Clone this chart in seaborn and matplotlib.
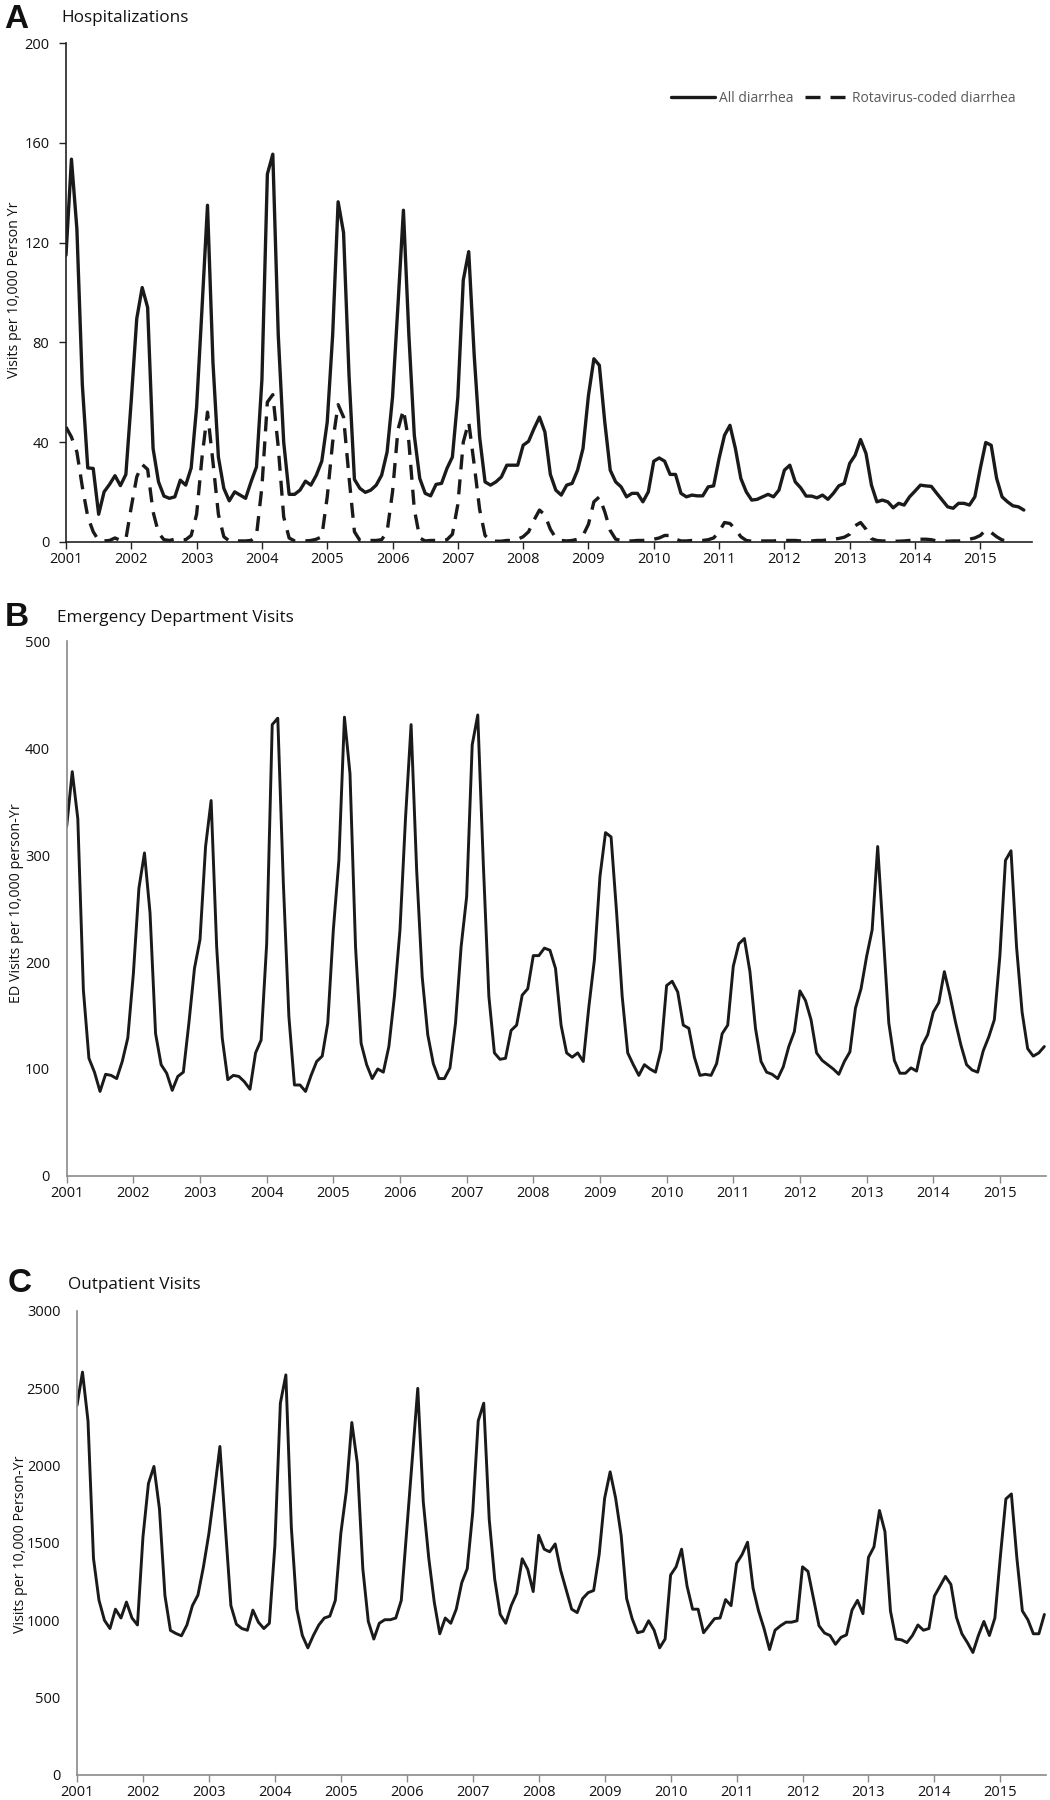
import numpy as np
import pandas as pd
import matplotlib
matplotlib.use("Agg")
import matplotlib.pyplot as plt
import seaborn as sns

# ---------------- data (monthly, Jan 2001 onward) ----------------
years = list(range(2001, 2016))

hosp_all = [
    115, 153.5, 125.5, 63, 29.6, 29.4, 11, 20, 23, 26.5, 22.5, 27,          # 2001
    57, 89.5, 102, 94, 37.4, 24, 18.3, 17.4, 18, 24.7, 22.7, 29.6,          # 2002
    54, 94, 135, 72, 34, 21.4, 16.4, 20, 18.7, 17.4, 24, 30,                # 2003
    65, 147.5, 155.5, 83, 40, 19, 19, 20.7, 24.3, 22.7, 26.7, 32.3,         # 2004
    48, 83, 136.4, 124, 67, 25, 21.4, 19.8, 20.7, 22.7, 26.7, 36,           # 2005
    58, 95, 133, 83, 42.7, 25.4, 19.4, 18.4, 23, 23.4, 29.4, 34,            # 2006
    58, 105, 116.4, 75, 42, 24, 22.7, 24, 26, 30.7, 30.7, 30.7,             # 2007
    38.7, 40.3, 45.4, 50, 44, 27, 20.7, 18.7, 22.7, 23.4, 28.7, 37.4,       # 2008
    58.7, 73.4, 70.8, 48, 28.7, 24, 22, 18, 19.4, 19.4, 16, 20,             # 2009
    32.3, 33.6, 32.3, 27, 27, 19.4, 18, 18.7, 18.4, 18.4, 22, 22.4,         # 2010
    33.4, 42.7, 46.7, 37.4, 25.4, 20, 16.7, 17, 18, 19, 18, 20.7,           # 2011
    28.7, 30.7, 24, 21.6, 18.3, 18.3, 17.6, 18.7, 17, 19.4, 22.4, 23.4,     # 2012
    31.4, 34.7, 41, 35.4, 22.7, 16, 16.7, 16, 13.6, 15.4, 14.7, 18,         # 2013
    20.3, 22.7, 22.4, 22.2, 19.4, 16.7, 14, 13.4, 15.4, 15.4, 14.7, 18,     # 2014
    29.4, 39.8, 38.7, 25.4, 18, 16, 14.4, 14, 12.7,                         # 2015
]

hosp_rota = [
    46, 42, 36, 22, 10, 4, 0.5, 0.3, 0.5, 1.5, 0.5, 1.0,
    14, 26, 31, 29, 12, 3.5, 0.8, 0.5, 1.0, 0.8, 0.8, 2.5,
    11, 34, 52, 32, 11, 2, 0.3, 0.3, 0.3, 0.3, 0.5, 2.5,
    22, 56, 59, 38, 10, 1.5, 0.3, 0.2, 0.3, 0.5, 1.0, 2.0,
    18, 40, 55, 50, 26, 4, 0.5, 0.3, 0.5, 0.5, 0.8, 4,
    20, 45, 53, 40, 13, 1.5, 0.3, 0.5, 0.5, 0.5, 0.8, 3,
    15, 40, 48, 31, 13, 2.5, 0.3, 0.2, 0.2, 0.5, 0.5, 1.0,
    2, 4, 8.7, 12.7, 10.7, 5, 1.5, 0.5, 0.3, 0.5, 1.0, 2.5,
    7, 16, 18, 12, 4.5, 1.0, 0.5, 0.3, 0.3, 0.5, 0.5, 0.8,
    1.0, 1.5, 2.5, 2.5, 1.0, 0.3, 0.3, 0.5, 0.5, 0.5, 0.8, 1.5,
    4, 7.7, 7.3, 5, 2, 0.5, 0.2, 0.2, 0.3, 0.3, 0.3, 0.5,
    0.5, 0.5, 0.5, 0.3, 0.3, 0.3, 0.5, 0.5, 0.8, 1.0, 1.3, 1.8,
    3, 6.4, 7.7, 5, 1.2, 0.5, 0.3, 0.3, 0.2, 0.2, 0.3, 0.5,
    0.8, 1.0, 1.0, 0.8, 0.3, 0.2, 0.2, 0.3, 0.3, 0.5, 1.0, 1.5,
    2.5, 4.7, 3.7, 2.0, 0.7, 0.3,
]

ed_visits = [
    327, 378, 334, 174, 110, 97, 79, 95, 94, 91, 107, 129,
    189, 269, 302, 246, 133, 104, 96, 80, 93, 97, 143, 194,
    221, 308, 351, 214, 129, 90, 94, 93, 88, 81, 115, 127,
    217, 422, 428, 274, 149, 85, 85, 79, 94, 107, 112, 143,
    230, 295, 429, 376, 214, 124, 104, 91, 100, 97, 121, 168,
    230, 335, 422, 286, 186, 132, 105, 91, 91, 101, 143, 214,
    261, 403, 431, 292, 168, 115, 109, 110, 136, 141, 169, 175,
    206, 206, 213, 211, 194, 141, 115, 111, 115, 107, 158, 202,
    280, 321, 317, 246, 168, 115, 104, 94, 104, 100, 97, 118,
    178, 182, 172, 141, 138, 111, 94, 95, 94, 105, 133, 141,
    196, 217, 222, 191, 138, 107, 97, 95, 91, 102, 121, 135,
    173, 164, 146, 115, 108, 104, 100, 95, 107, 116, 157, 175,
    205, 230, 308, 225, 143, 108, 96, 96, 101, 98, 122, 132,
    153, 162, 191, 169, 144, 122, 104, 99, 97, 117, 130, 146,
    206, 295, 304, 214, 153, 119, 112, 115, 121,
]

outpatient = [
    2390, 2605, 2290, 1400, 1130, 1000, 947, 1072, 1015, 1118, 1015, 970,
    1539, 1885, 1995, 1721, 1160, 935, 915, 900, 970, 1095, 1163, 1345,
    1562, 1835, 2124, 1600, 1095, 975, 947, 936, 1066, 988, 947, 981,
    1482, 2404, 2587, 1600, 1072, 902, 822, 902, 970, 1015, 1027, 1129,
    1562, 1835, 2279, 2017, 1334, 993, 879, 981, 1004, 1004, 1015, 1129,
    1585, 2040, 2500, 1767, 1402, 1118, 913, 1015, 981, 1072, 1243, 1334,
    1699, 2290, 2404, 1653, 1266, 1038, 981, 1095, 1175, 1398, 1330, 1186,
    1550, 1460, 1443, 1494, 1323, 1198, 1072, 1050, 1141, 1179, 1193, 1425,
    1790, 1960, 1790, 1550, 1141, 1011, 920, 929, 997, 936, 822, 879,
    1293, 1346, 1460, 1220, 1072, 1072, 920, 965, 1011, 1015, 1134, 1095,
    1368, 1425, 1505, 1209, 1061, 947, 811, 936, 965, 988, 988, 997,
    1346, 1316, 1141, 965, 918, 902, 845, 890, 906, 1066, 1129, 1043,
    1407, 1475, 1710, 1573, 1061, 879, 874, 856, 902, 970, 936, 947,
    1157, 1220, 1284, 1232, 1020, 913, 856, 792, 902, 993, 902, 1015,
    1414, 1785, 1817, 1403, 1061, 1004, 913, 913, 1038,
]

series_labels = ["All diarrhea", "Rotavirus-coded diarrhea"]

# ---------------- style ----------------
sns.set_style("ticks")
plt.rcParams['font.family'] = ['Open Sans', 'DejaVu Sans']
plt.rcParams['axes.linewidth'] = 1.0

W, H = 1050, 1800
fig = plt.figure(figsize=(W / 100, H / 100), dpi=100)

def add_ax(x0, x1, ytop, ybot):
    return fig.add_axes([x0 / W, 1 - ybot / H, (x1 - x0) / W, (ybot - ytop) / H])

LINE = "#1a1a1a"
TICK_FS = 10.5
year_ticks = [12 * k for k in range(len(years))]

def frame(ax, spine_color, ytick_len):
    sns.despine(ax=ax)
    for s in ("left", "bottom"):
        ax.spines[s].set_color(spine_color)
        ax.spines[s].set_linewidth(1.2)
    ax.set_xticks(year_ticks)
    ax.set_xticklabels([str(y) for y in years])
    ax.tick_params(axis="x", length=5, width=1.0, color=spine_color, direction="out",
                   labelsize=TICK_FS, pad=2.5, labelcolor="#111111")
    ax.tick_params(axis="y", length=ytick_len, width=1.0, color=spine_color, direction="out",
                   labelsize=TICK_FS, pad=12 - ytick_len, labelcolor="#111111")
    ax.set_xlabel("")
    ax.set_ylabel("")
    ax.grid(False)

# ---------------- Panel A ----------------
axA = add_ax(66, 1032, 43.3, 541.7)
dfA1 = pd.DataFrame({"month": np.arange(len(hosp_all)), "rate": hosp_all})
dfA2 = pd.DataFrame({"month": np.arange(len(hosp_rota)), "rate": hosp_rota})
sns.lineplot(data=dfA1, x="month", y="rate", ax=axA, color=LINE, linewidth=2.4,
             label=series_labels[0])
sns.lineplot(data=dfA2, x="month", y="rate", ax=axA, color=LINE, linewidth=2.4,
             label=series_labels[1])
axA.lines[1].set_dashes((4.5, 3.0))
axA.set_xlim(0, 177.5)
axA.set_ylim(0, 200)
axA.set_yticks([0, 40, 80, 120, 160, 200])
frame(axA, "#222222", 5)
leg = axA.legend(loc="center left", bbox_to_anchor=(671 / W, 1 - 98 / H),
                 bbox_transform=fig.transFigure, ncol=2, frameon=False,
                 fontsize=10, handlelength=3.15, handletextpad=0.3,
                 columnspacing=0.8, borderaxespad=0, borderpad=0)
for t in leg.get_texts():
    t.set_color("#595959")
for h in leg.get_lines():
    h.set_linewidth(2.4)

# ---------------- Panel B ----------------
axB = add_ax(66.7, 1046, 641.2, 1175.9)
dfB = pd.DataFrame({"month": np.arange(len(ed_visits)), "rate": ed_visits})
sns.lineplot(data=dfB, x="month", y="rate", ax=axB, color=LINE, linewidth=2.1)
axB.set_xlim(0, 176.3)
axB.set_ylim(0, 500)
axB.set_yticks([0, 100, 200, 300, 400, 500])
frame(axB, "#8a8a8a", 0)

# ---------------- Panel C ----------------
axC = add_ax(77, 1046, 1311, 1775)
dfC = pd.DataFrame({"month": np.arange(len(outpatient)), "rate": outpatient})
sns.lineplot(data=dfC, x="month", y="rate", ax=axC, color=LINE, linewidth=2.1)
axC.set_xlim(0, 176.3)
axC.set_ylim(0, 3000)
axC.set_yticks([0, 500, 1000, 1500, 2000, 2500, 3000])
frame(axC, "#8a8a8a", 0)

# ---------------- titles and labels ----------------
def ftxt(x, y, s, **kw):
    fig.text(x / W, 1 - y / H, s, **kw)

letter_kw = dict(fontsize=24, fontweight="bold", family=["Liberation Sans", "DejaVu Sans"],
                 va="center", ha="left", color="#111111")
title_kw = dict(fontsize=12.3, va="center", ha="left", color="#111111")
ylab_kw = dict(fontsize=10.3, rotation=90, va="center", ha="center", color="#111111")

ftxt(4, 19, "A", **letter_kw)
ftxt(61, 18.5, "Hospitalizations", **title_kw)
ftxt(15, 290, "Visits per 10,000 Person Yr", **ylab_kw)

ftxt(5, 617, "B", **letter_kw)
ftxt(57, 618, "Emergency Department Visits", **title_kw)
ftxt(17, 903, "ED Visits per 10,000 person-Yr", **ylab_kw)

ftxt(8, 1284, "C", **letter_kw)
ftxt(68, 1285, "Outpatient Visits", **title_kw)
ftxt(20, 1544, "Visits per 10,000 Person-Yr", **ylab_kw)

fig.savefig("out.png", dpi=100)
